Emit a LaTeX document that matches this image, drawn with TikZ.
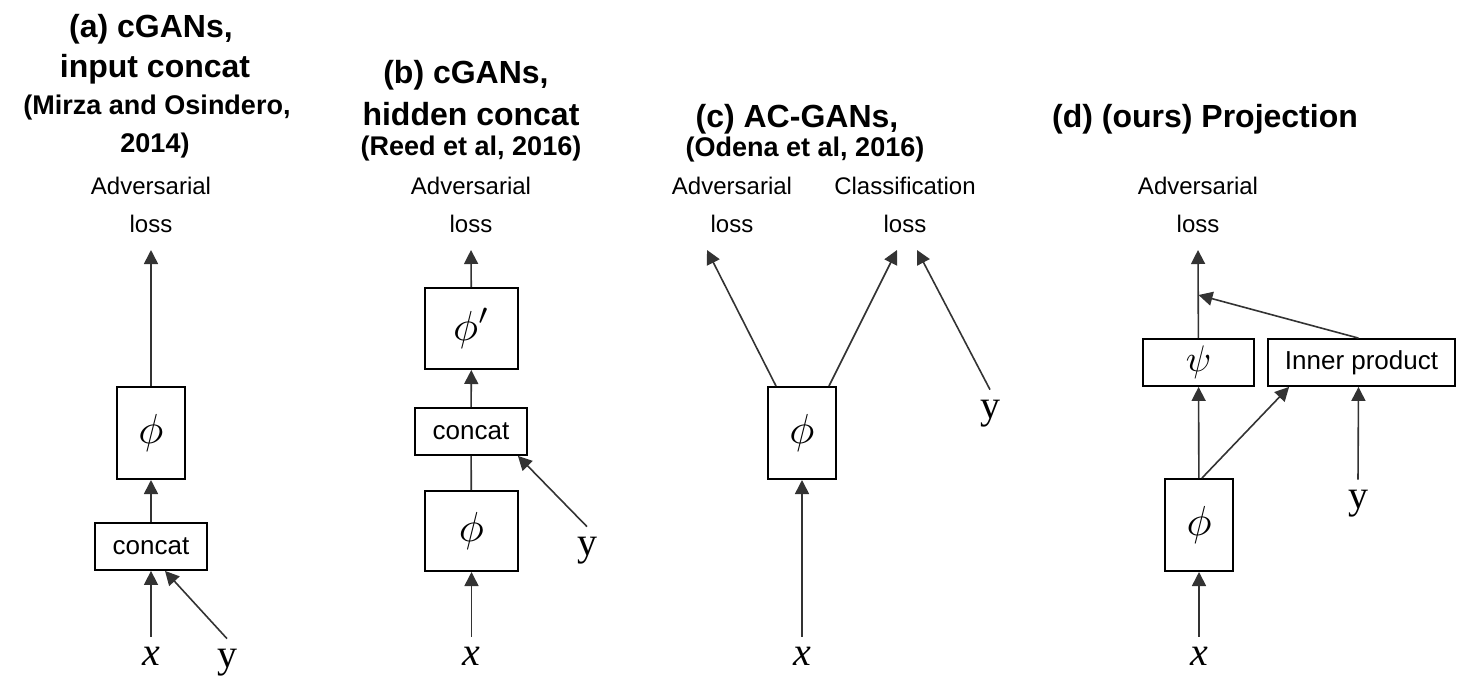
\RequirePackage{fix-cm}
\documentclass[tikz,border=0pt]{standalone}
\usepackage{graphicx}
\usepackage{fontspec}
\setmainfont{Liberation Sans}
\newfontfamily\serifletters{Liberation Serif}
\usetikzlibrary{positioning,arrows.meta}

\newcommand{\fTitle}{\fontsize{32}{38}\selectfont\bfseries}
\newcommand{\fCite}{\fontsize{27}{38}\selectfont\bfseries}
\newcommand{\fLoss}{\fontsize{24}{38}\selectfont}
\newcommand{\fBox}{\fontsize{26}{30}\selectfont}
\newcommand{\fInput}{\fontsize{40}{42}\selectfont\serifletters}
\newcommand{\bigsym}[2][4.2]{\scalebox{#1}{$#2$}}

\begin{document}
\begin{tikzpicture}[x=1pt,y=-1pt,>={Triangle[length=14pt,width=14pt]},
    title/.style={font=\fTitle,anchor=base,inner sep=0pt},
    cite/.style={font=\fCite,anchor=base,inner sep=0pt},
    loss/.style={font=\fLoss,align=center,anchor=south,inner sep=0pt},
    block/.style={draw=black,line width=2pt,minimum width=68pt,minimum height=92pt,inner sep=0pt,font=\normalsize},
    wide/.style={draw=black,line width=1.8pt,minimum width=112pt,minimum height=47pt,inner sep=0pt,font=\fBox},
    input/.style={font=\fInput,anchor=base,inner sep=0pt,outer sep=10pt},
    link/.style={->,color=black!80,line width=1.6pt}]
    \useasboundingbox (0,0) rectangle (1480,697);
    % ------------------------------------------------------------------
    %                             TITLES
    % ------------------------------------------------------------------
    \node[title] (tA1) at (151,37)   {(a) cGANs,};
    \node[title] (tA2) at (155,77)   {input concat};
    \node[cite]  (tA3) at (157,114)  {(Mirza and Osindero,};
    \node[cite]  (tA4) at (155,152)  {2014)};
    \node[title] (tB1) at (466,83)   {(b) cGANs,};
    \node[title] (tB2) at (471,125)  {hidden concat};
    \node[cite]  (tB3) at (471,155)  {(Reed et al, 2016)};
    \node[title] (tC1) at (797,127)  {(c) AC-GANs,};
    \node[cite]  (tC2) at (805,156)  {(Odena et al, 2016)};
    \node[title] (tD1) at (1205,127) {(d) (ours) Projection};
    % losses
    \node[loss] (advA) at (151,233)  {Adversarial\\loss};
    \node[loss] (advB) at (471,233)  {Adversarial\\loss};
    \node[loss] (advC) at (732,233)  {Adversarial\\loss};
    \node[loss] (clsC) at (905,233)  {Classification\\loss};
    \node[loss] (advD) at (1198,233) {Adversarial\\loss};

    % ------------------------------------------------------------------
    %                             NODES
    % ------------------------------------------------------------------
    % (a) input concat
    \node[block]  (phiA)  at (151,433)     {\bigsym{\phi}};
    \node[wide]   (catA)  at (151,546.5)   {concat};
    \node[input]  (xA)    at (151,665)     {\itshape x};
    \node[input]  (yA)    at (227,667)     {y};
    % (b) hidden concat
    \node[block,minimum width=93pt,minimum height=81pt] (phipB) at (471.5,328.5) {\bigsym{\phi'}};
    \node[wide]   (catB)  at (471,431.5)   {concat};
    \node[block,minimum width=93pt,minimum height=80pt] (phiB)  at (471.5,531) {\bigsym{\phi}};
    \node[input]  (xB)    at (471.5,665)   {\itshape x};
    \node[input]  (yB)    at (587,555)     {y};
    % (c) AC-GANs
    \node[block]  (phiC)  at (802,433)     {\bigsym{\phi}};
    \node[input]  (xC)    at (802,665)     {\itshape x};
    \node[input]  (yC)    at (990,418)     {y};
    % (d) projection
    \node[wide,minimum width=111pt,font=\normalsize] (psiD) at (1198.5,362.5) {\bigsym[3.7]{\psi}};
    \node[wide,minimum width=187pt] (innD) at (1361.5,362.5) {Inner product};
    \node[block]  (phiD)  at (1199,525)    {\bigsym{\phi}};
    \node[input]  (xD)    at (1199,665)    {\itshape x};
    \node[input]  (yD)    at (1358,508)    {y};
    \coordinate (mergeD) at (1198.5,295);

    % ------------------------------------------------------------------
    %                             EDGES
    % ------------------------------------------------------------------
    \path[link]
      % (a)
      (xA.north) edge (catA.south)
      (yA.north) edge ([xshift=14pt]catA.south)
      (catA)     edge (phiA)
      (phiA)     edge ([yshift=-17pt]advA.south)
      % (b)
      (xB.north) edge (phiB.south)
      (phiB)     edge [-] (catB)
      (yB.north) edge ([xshift=-10pt]catB.south east)
      (catB)     edge (phipB)
      (phipB)    edge ([yshift=-17pt]advB.south)
      % (c)
      (xC.north) edge (phiC.south)
      ([xshift=9pt]phiC.north west)  edge ([xshift=-25pt,yshift=-17pt]advC.south)
      ([xshift=-8pt]phiC.north east) edge ([xshift=-8pt,yshift=-17pt]clsC.south)
      (yC.north) edge ([xshift=12pt,yshift=-17pt]clsC.south)
      % (d)
      (xD.north) edge (phiD.south)
      (phiD)     edge (psiD)
      ([xshift=3pt]phiD.north)  edge ([xshift=22pt]innD.south west)
      (yD.north) edge ([xshift=-3pt]innD.south)
      (psiD)     edge ([yshift=-17pt]advD.south)
      ([xshift=-3pt]innD.north) edge (mergeD);
\end{tikzpicture}
\end{document}
